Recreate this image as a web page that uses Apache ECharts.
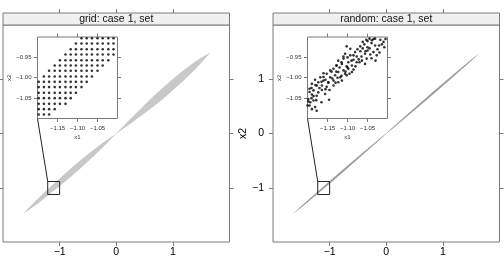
<!DOCTYPE html>
<html>
<head>
<meta charset="utf-8">
<title>grid / random: case 1, set</title>
<script src="https://cdn.jsdelivr.net/npm/echarts@6/dist/echarts.min.js"></script>
<style>
  html, body { margin: 0; background: #fff; }
  #main { width: 504px; height: 258px; }
</style>
</head>
<body>
<div id="main"></div>
<script>
// ---- data ----
var mainTicks = [-1, 0, 1];
var insetXTicks = [-1.15, -1.10, -1.05];
var insetYTicks = [-1.05, -1.00, -0.95];
var insetX = [-1.2, -1.0];
var insetY = [-1.1, -0.9];
var boxX = [-1.21, -1.0];
var boxY = [-1.125, -0.885];

// grey "set" band, left panel (upper / lower edge)
var bandX  = [-1.65, -1.55, -1.4, -1.2, -1.0, -0.8, -0.6, -0.4, -0.2, -0.05, 0, 0.05, 0.2, 0.4, 0.6, 0.8, 1.0, 1.2, 1.4, 1.55, 1.66];
var bandHi = [-1.485, -1.375, -1.215, -1.02, -0.83, -0.642, -0.465, -0.30, -0.145, -0.035, 0.003, 0.057, 0.215, 0.425, 0.63, 0.825, 1.005, 1.175, 1.33, 1.43, 1.494];
var bandLo = [-1.485, -1.415, -1.305, -1.14, -0.97, -0.798, -0.615, -0.42, -0.215, -0.055, -0.003, 0.033, 0.145, 0.295, 0.45, 0.615, 0.795, 0.985, 1.19, 1.36, 1.494];

// thin band, right panel
var thinX  = [-1.66, -1.5, -1.2, -0.8, -0.4, -0.1, 0, 0.1, 0.4, 0.8, 1.2, 1.5, 1.65];
var thinHi = [-1.494, -1.338, -1.058, -0.695, -0.34, -0.08, 0.004, 0.10, 0.38, 0.745, 1.102, 1.362, 1.485];
var thinLo = [-1.494, -1.362, -1.102, -0.745, -0.38, -0.10, -0.004, 0.08, 0.34, 0.695, 1.058, 1.338, 1.485];

// grid inset: column / row positions and the occupied column range of each row (top row first)
var gridCols = [-1.197, -1.184, -1.171, -1.157, -1.144, -1.130, -1.117, -1.104, -1.090, -1.077, -1.064, -1.050, -1.037, -1.023, -1.010];
var gridRows = [-0.903, -0.916, -0.930, -0.943, -0.957, -0.970, -0.983, -0.997, -1.010, -1.023, -1.037, -1.050, -1.064, -1.077, -1.090];
var rowStart = [8, 7, 6, 5, 4, 3, 2, 1, 0, 0, 0, 0, 0, 0, 0];
var rowEnd   = [14, 14, 14, 14, 13, 12, 11, 10, 9, 8, 7, 6, 5, 3, 2];

// random inset points
var randX = [-1.062, -1.053, -1.045, -1.039, -1.031, -1.018, -1.010, -1.021, -1.058, -1.068, -1.050, -1.031, -1.014,
  -1.102, -1.093, -1.081, -1.068, -1.056, -1.043, -1.077, -1.050, -1.035, -1.027, -1.093, -1.106,
  -1.123, -1.110, -1.098, -1.089, -1.077, -1.064, -1.056, -1.114, -1.102, -1.127, -1.052, -1.085,
  -1.143, -1.135, -1.123, -1.110, -1.098, -1.089, -1.131, -1.152, -1.160, -1.143, -1.118, -1.102, -1.168, -1.106,
  -1.181, -1.173, -1.160, -1.148, -1.135, -1.123, -1.164, -1.152, -1.135, -1.189, -1.177, -1.114,
  -1.195, -1.185, -1.173, -1.164, -1.156, -1.189, -1.177, -1.146, -1.198, -1.193, -1.185, -1.195, -1.189, -1.181, -1.177,
  -1.005, -1.008, -1.025, -1.040, -1.062, -1.075, -1.085, -1.040, -1.030, -1.065, -1.070, -1.080, -1.090, -1.100,
  -1.115, -1.120, -1.128, -1.105, -1.095, -1.115, -1.125, -1.138, -1.148, -1.155, -1.160, -1.165, -1.170, -1.155,
  -1.145, -1.180, -1.190, -1.195, -1.185, -1.198, -1.190, -1.178, -1.165, -1.200, -1.130, -1.140, -1.128, -1.110,
  -1.100, -1.085, -1.072, -1.055, -1.045, -1.020, -1.035, -1.050];
var randY = [-0.912, -0.907, -0.904, -0.908, -0.904, -0.907, -0.912, -0.921, -0.918, -0.923, -0.925, -0.921, -0.918,
  -0.923, -0.929, -0.937, -0.935, -0.941, -0.943, -0.948, -0.933, -0.937, -0.945, -0.945, -0.941,
  -0.958, -0.953, -0.962, -0.970, -0.962, -0.958, -0.966, -0.966, -0.972, -0.970, -0.953, -0.956,
  -0.982, -0.978, -0.986, -0.982, -0.978, -0.986, -0.994, -0.990, -0.989, -0.999, -0.999, -0.994, -0.999, -0.990,
  -1.005, -1.011, -1.007, -1.011, -1.007, -1.011, -1.019, -1.022, -1.019, -1.015, -1.019, -1.007,
  -1.027, -1.031, -1.036, -1.030, -1.040, -1.041, -1.044, -1.054, -1.052, -1.060, -1.056, -1.068, -1.077, -1.072, -1.081,
  -0.905, -0.925, -0.930, -0.915, -0.928, -0.930, -0.945, -0.952, -0.958, -0.948, -0.962, -0.972, -0.958, -0.950,
  -0.962, -0.975, -0.985, -0.985, -0.990, -0.995, -1.000, -1.002, -1.012, -1.005, -0.998, -1.010, -1.025, -1.028,
  -1.030, -1.018, -1.025, -1.035, -1.045, -1.058, -1.050, -1.055, -1.060, -1.068, -1.012, -0.985, -0.970, -0.948,
  -0.975, -0.980, -0.955, -0.935, -0.928, -0.938, -0.905, -0.910];

// ---- build point lists ----
var gridPts = [];
for (var r = 0; r < gridRows.length; r++) {
  for (var c = rowStart[r]; c <= rowEnd[r]; c++) gridPts.push([gridCols[c], gridRows[r]]);
}
var randPts = randX.map(function (x, i) { return [x, randY[i]]; });

var FONT = 'Liberation Sans, Arial, sans-serif';
var AXC = '#7a7a7a';

function fmt(d) {
  return function (v) { return (v < 0 ? '\u2212' : '') + Math.abs(v).toFixed(d); };
}

function xAxes(gi, min, max, ticks, d, size, tlen, margin, topOffset, name) {
  return [{
    gridIndex: gi, type: 'value', min: min, max: max, position: 'bottom',
    name: name || '', nameLocation: 'middle', nameGap: 16,
    nameTextStyle: { fontSize: size, fontFamily: FONT, color: '#333' },
    axisLine: { show: false, onZero: false }, splitLine: { show: false },
    axisTick: { customValues: ticks, length: tlen, lineStyle: { color: AXC } },
    axisLabel: { customValues: ticks, formatter: fmt(d), fontSize: size, fontFamily: FONT,
      color: size > 8 ? '#000' : '#333', margin: margin }
  }, {
    gridIndex: gi, type: 'value', min: min, max: max, position: 'top', offset: topOffset,
    axisLine: { show: false, onZero: false }, splitLine: { show: false },
    axisTick: { customValues: ticks, length: tlen, lineStyle: { color: AXC } },
    axisLabel: { show: false }
  }];
}

function yAxes(gi, min, max, ticks, d, size, tlen, margin, showLabels, name, nameGap) {
  return [{
    gridIndex: gi, type: 'value', min: min, max: max, position: 'left',
    name: name || '', nameLocation: 'middle', nameGap: nameGap || 20, nameRotate: 90,
    nameTextStyle: { fontSize: size, fontFamily: FONT, color: size > 8 ? '#000' : '#333' },
    axisLine: { show: false, onZero: false }, splitLine: { show: false },
    axisTick: { customValues: ticks, length: tlen, lineStyle: { color: AXC } },
    axisLabel: { show: showLabels, customValues: ticks, formatter: fmt(d), fontSize: size, fontFamily: FONT,
      color: size > 8 ? '#000' : '#333', margin: margin }
  }, {
    gridIndex: gi, type: 'value', min: min, max: max, position: 'right',
    axisLine: { show: false, onZero: false }, splitLine: { show: false },
    axisTick: { customValues: ticks, length: tlen, lineStyle: { color: AXC } },
    axisLabel: { show: false }
  }];
}

function bandRender(xs, hi, lo, color) {
  return function (params, api) {
    var pts = [];
    for (var i = 0; i < xs.length; i++) pts.push(api.coord([xs[i], hi[i]]));
    for (var j = xs.length - 1; j >= 0; j--) pts.push(api.coord([xs[j], lo[j]]));
    return { type: 'polygon', shape: { points: pts }, style: { fill: color } };
  };
}

function boxRender(params, api) {
  var a = api.coord([boxX[0], boxY[1]]);
  var b = api.coord([boxX[1], boxY[0]]);
  return { type: 'rect', shape: { x: a[0], y: a[1], width: b[0] - a[0], height: b[1] - a[1] },
    style: { fill: 'none', stroke: '#222', lineWidth: 1 } };
}

var gridStyle = { show: true, borderColor: AXC, borderWidth: 1, backgroundColor: '#fff' };

var chart = echarts.init(document.getElementById('main'));
chart.setOption({
  animation: false,
  grid: [
    Object.assign({ left: 3, top: 25, width: 226.5, height: 217 }, gridStyle),
    Object.assign({ left: 37.5, top: 37, width: 80, height: 81.5, z: 3 }, gridStyle),
    Object.assign({ left: 273, top: 25, width: 226.5, height: 217 }, gridStyle),
    Object.assign({ left: 307.5, top: 37, width: 80, height: 81.5, z: 3 }, gridStyle)
  ],
  xAxis: [].concat(
    xAxes(0, -2, 2, mainTicks, 0, 10.5, 4, 5, 12),
    xAxes(1, insetX[0], insetX[1], insetXTicks, 2, 6, 3.5, 7, 0, 'x1'),
    xAxes(2, -2, 2, mainTicks, 0, 10.5, 4, 5, 12),
    xAxes(3, insetX[0], insetX[1], insetXTicks, 2, 6, 3.5, 7, 0, 'x1')
  ),
  yAxis: [].concat(
    yAxes(0, -2, 2, mainTicks, 0, 10.5, 4, 9, false),
    yAxes(1, insetY[0], insetY[1], insetYTicks, 2, 6, 3.5, 6, true, 'x2', 20),
    yAxes(2, -2, 2, mainTicks, 0, 10.5, 4, 9, true, 'x2', 22),
    yAxes(3, insetY[0], insetY[1], insetYTicks, 2, 6, 3.5, 6, true, 'x2', 20)
  ),
  series: [
    { type: 'custom', xAxisIndex: 0, yAxisIndex: 0, data: [[0, 0]], silent: true,
      renderItem: bandRender(bandX, bandHi, bandLo, '#c8c8c8') },
    { type: 'custom', xAxisIndex: 0, yAxisIndex: 0, data: [[0, 0]], silent: true, renderItem: boxRender },
    { type: 'scatter', xAxisIndex: 2, yAxisIndex: 2, data: gridPts, symbolSize: 2.6, z: 4,
      itemStyle: { color: '#000' }, silent: true },
    { type: 'custom', xAxisIndex: 4, yAxisIndex: 4, data: [[0, 0]], silent: true,
      renderItem: bandRender(thinX, thinHi, thinLo, '#9c9c9c') },
    { type: 'custom', xAxisIndex: 4, yAxisIndex: 4, data: [[0, 0]], silent: true, renderItem: boxRender },
    { type: 'scatter', xAxisIndex: 6, yAxisIndex: 6, data: randPts, symbolSize: 2.6, z: 4,
      itemStyle: { color: '#000' }, silent: true }
  ]
});

// strips and the line from each inset to its zoom box
var graphics = [];
[['grid: case 1, set', 3], ['random: case 1, set', 273]].forEach(function (s) {
  graphics.push({ type: 'rect', shape: { x: s[1], y: 13, width: 226.5, height: 12 },
    style: { fill: '#f0f0f0', stroke: AXC, lineWidth: 1 }, z: 10 });
  graphics.push({ type: 'text', x: s[1] + 113.25, y: 19.5, z: 11,
    style: { text: s[0], fill: '#111', font: '10.5px ' + FONT, align: 'center', verticalAlign: 'middle' } });
});
[[1, 0], [3, 2]].forEach(function (g) {
  var a = chart.convertToPixel({ gridIndex: g[0] }, [insetX[0], insetY[0]]);
  var b = chart.convertToPixel({ gridIndex: g[1] }, [boxX[0], boxY[1]]);
  graphics.push({ type: 'line', shape: { x1: a[0], y1: a[1], x2: b[0], y2: b[1] },
    style: { stroke: '#222', lineWidth: 1 }, z: 12 });
});
chart.setOption({ graphic: graphics });
</script>
</body>
</html>
